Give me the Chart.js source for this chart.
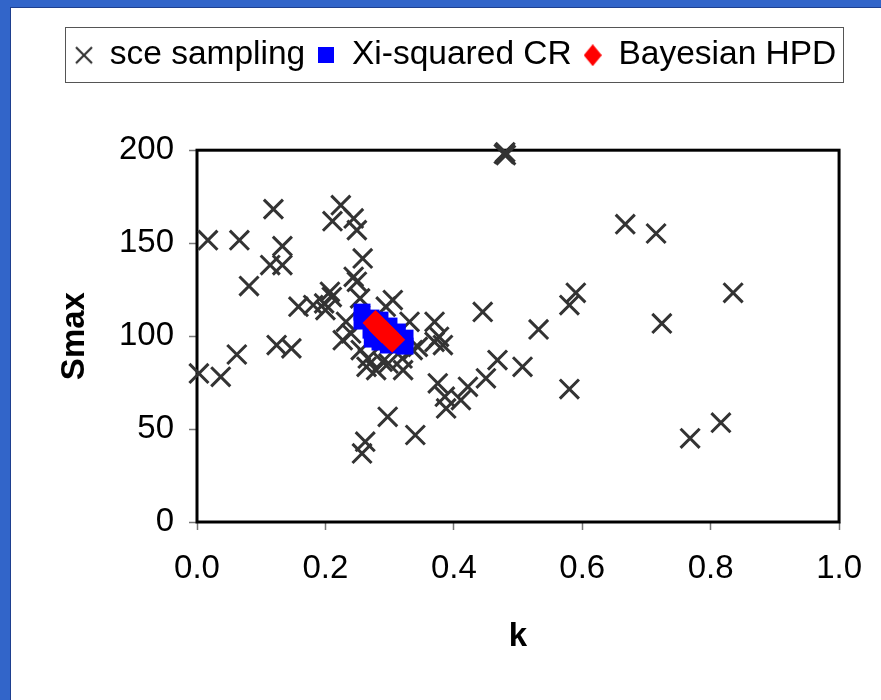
<!DOCTYPE html>
<html><head><meta charset="utf-8">
<script src="https://cdn.jsdelivr.net/npm/chart.js@4"></script>
<style>html,body{margin:0;padding:0;background:#fff;overflow:hidden}canvas{display:block}</style>
</head><body>
<canvas id="c" width="881" height="700"></canvas>
<script>
const seriesNames = ['sce sampling', 'Xi-squared CR', 'Bayesian HPD'];
const axisTitles = ['k', 'Smax'];
const xTickValues = [0, 0.2, 0.4, 0.6, 0.8, 1.0];
const yTickValues = [0, 50, 100, 150, 200];

const sceK = [0.478,0.481,0.480,0.119,0.224,0.211,0.244,0.249,0.017,0.066,0.133,0.114,0.133,0.258,0.081,0.244,0.249,0.158,0.181,0.200,0.207,0.210,0.198,0.254,0.305,0.294,0.331,0.370,0.445,0.232,0.240,0.227,0.255,0.266,0.264,0.279,0.298,0.321,0.289,0.320,0.336,0.344,0.370,0.377,0.383,0.375,0.386,0.388,0.411,0.422,0.450,0.468,0.507,0.297,0.340,0.262,0.257,0.003,0.037,0.062,0.124,0.147,0.667,0.715,0.590,0.580,0.835,0.532,0.724,0.580,0.768,0.816];
const sceS = [198.0,197.4,198.9,168.3,170.4,161.8,163.3,157.0,151.6,151.6,148.4,138.2,138.2,141.8,126.9,131.9,129.2,115.8,116.7,114.0,123.8,121.0,117.6,120.3,119.4,115.8,107.7,107.7,113.0,107.7,101.4,97.8,92.5,88.0,83.5,81.7,85.3,81.7,86.2,88.0,92.5,94.2,96.9,99.6,95.2,74.6,67.4,61.1,65.6,72.7,77.3,87.1,83.5,56.6,46.8,43.2,36.9,79.9,78.1,90.1,95.2,93.4,160.2,155.2,123.3,116.7,123.3,103.6,106.8,71.5,45.0,53.4];

const chiK = [0.257,0.257,0.271,0.271,0.273,0.285,0.285,0.285,0.299,0.299,0.298,0.312,0.312,0.324,0.324];
const chiS = [112.9,108.1,109.7,103.2,98.4,108.6,100.0,96.8,105.4,97.8,95.2,102.2,95.7,98.9,94.6];

const hpdK = [0.278,0.283,0.288,0.294,0.299,0.304];
const hpdS = [107.0,105.1,103.2,101.6,99.7,98.1];

const pts = (xs, ys) => xs.map((x, i) => ({x: x, y: ys[i]}));

function mk(w, h, fn) { const cv = document.createElement('canvas'); cv.width = w; cv.height = h; fn(cv.getContext('2d')); return cv; }
const legendGlyphs = [
  mk(22, 22, g => { g.strokeStyle = '#333'; g.lineWidth = 2.2; g.beginPath(); g.moveTo(3,3); g.lineTo(19,19); g.moveTo(19,3); g.lineTo(3,19); g.stroke(); }),
  mk(16, 16, g => { g.fillStyle = '#0000FF'; g.fillRect(0,0,16,16); }),
  mk(18, 22, g => { g.fillStyle = '#FF0000'; g.beginPath(); g.moveTo(9,0); g.lineTo(18,11); g.lineTo(9,22); g.lineTo(0,11); g.closePath(); g.fill(); })
];

const decor = {
  id: 'decor',
  beforeDraw(chart) {
    const c = chart.ctx; c.save();
    c.fillStyle = '#fff'; c.fillRect(0, 0, chart.width, chart.height);
    c.fillStyle = '#3265C9'; c.fillRect(0, 0, chart.width, 8); c.fillRect(0, 0, 10, chart.height);
    c.fillStyle = '#1E3F8F'; c.fillRect(10, 8, 1, chart.height); c.fillRect(10, 7, chart.width, 1);
    c.restore();
  },
  beforeDatasetsDraw(chart) {
    const a = chart.chartArea, c = chart.ctx; c.save();
    c.strokeStyle = '#000'; c.lineWidth = 3;
    c.strokeRect(a.left, a.top, a.right - a.left, a.bottom - a.top);
    c.restore();
  },
  afterDraw(chart) {
    const lg = chart.legend, hb = lg.legendHitBoxes, c = chart.ctx;
    if (!hb || !hb.length) return;
    const l = Math.round(hb[0].left - 10);
    const last = hb[hb.length - 1];
    const r = Math.round(last.left + last.width + 7);
    c.save(); c.strokeStyle = '#555'; c.lineWidth = 1;
    c.strokeRect(l + 0.5, Math.round(lg.top) + 0.5, r - l, 55);
    c.restore();
  }
};

const FONT = "'Liberation Sans', Arial, sans-serif";

new Chart(document.getElementById('c'), {
  type: 'scatter',
  data: {
    datasets: [
      { label: seriesNames[0], data: pts(sceK, sceS), pointStyle: 'crossRot', pointRadius: 13.5, borderColor: '#333333', backgroundColor: '#333333', pointBorderWidth: 3, order: 3, clip: false },
      { label: seriesNames[1], data: pts(chiK, chiS), pointStyle: 'rect', pointRadius: 12, borderColor: '#0000FF', backgroundColor: '#0000FF', pointBorderWidth: 0, order: 2, clip: false },
      { label: seriesNames[2], data: pts(hpdK, hpdS), pointStyle: 'rectRot', pointRadius: 13, borderColor: '#FF0000', backgroundColor: '#FF0000', pointBorderWidth: 0, order: 1, clip: false }
    ]
  },
  options: {
    responsive: false,
    animation: false,
    events: [],
    devicePixelRatio: 1,
    layout: { padding: { top: 26.5, left: 63, right: 0, bottom: 0 } },
    plugins: {
      tooltip: { enabled: false },
      title: { display: true, text: '', weight: 500, position: 'top', font: { size: 10, lineHeight: 1 }, padding: { top: 0, bottom: 58.2 } },
      legend: {
        position: 'top', align: 'start',
        labels: {
          usePointStyle: true, boxWidth: 18, boxHeight: 22, padding: 12,
          color: '#000', font: { family: FONT, size: 33.5 },
          sort: (a, b) => a.datasetIndex - b.datasetIndex,
          generateLabels(chart) {
            const items = Chart.defaults.plugins.legend.labels.generateLabels(chart);
            items.forEach(it => { it.pointStyle = legendGlyphs[it.datasetIndex]; it.rotation = 0; });
            return items;
          }
        }
      }
    },
    scales: {
      x: {
        type: 'linear', min: 0, max: 1,
        afterBuildTicks: s => { s.ticks = xTickValues.map(v => ({value: v})); },
        afterFit: s => { s.height = 178; },
        ticks: { color: '#000', font: { family: FONT, size: 33 }, padding: 19, callback: v => v.toFixed(1), maxRotation: 0 },
        grid: { drawOnChartArea: false, drawTicks: true, tickLength: 8, tickColor: '#777', tickWidth: 1.5 },
        border: { display: false },
        title: { display: true, text: axisTitles[0], color: '#000', font: { family: FONT, size: 33, weight: 'bold', lineHeight: 1.2 }, padding: { top: 0, bottom: 43 } }
      },
      y: {
        type: 'linear', min: 0, max: 200,
        afterBuildTicks: s => { s.ticks = yTickValues.map(v => ({value: v})); },
        afterFit: s => { s.width = 134; },
        ticks: { color: '#000', font: { family: FONT, size: 33 }, padding: 15 },
        grid: { drawOnChartArea: false, drawTicks: true, tickLength: 8, tickColor: '#777', tickWidth: 1.5 },
        border: { display: false },
        title: { display: true, text: axisTitles[1], color: '#000', font: { family: FONT, size: 33, weight: 'bold', lineHeight: 1.2 }, padding: { top: -8, bottom: 0 } }
      },
      ySpacer: {
        type: 'linear', position: 'right', min: 0, max: 200,
        afterFit: s => { s.width = 39; },
        ticks: { display: false },
        grid: { display: false, drawTicks: false },
        border: { display: false },
        title: { display: false }
      }
    }
  },
  plugins: [decor]
});
</script>
</body></html>
